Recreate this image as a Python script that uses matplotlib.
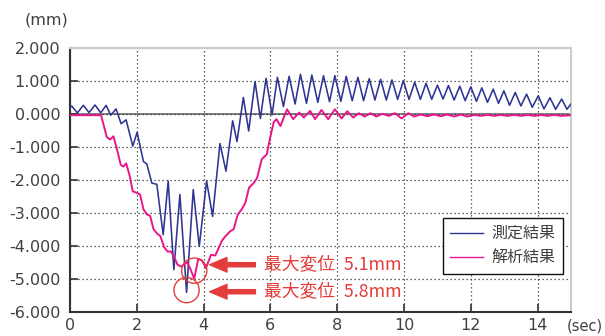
import matplotlib
matplotlib.use('Agg')
import matplotlib.pyplot as plt

plt.rcParams['font.family'] = ['Noto Sans CJK JP', 'DejaVu Sans']

# ---- data ----
series_names = ['測定結果', '解析結果']

t_meas = [0.00, 0.05, 0.22, 0.40, 0.57, 0.75, 0.92, 1.08, 1.22, 1.38, 1.53, 1.68,
          1.88, 2.01, 2.20, 2.30, 2.45, 2.60, 2.79, 2.94, 3.11, 3.29, 3.49, 3.69,
          3.87, 4.09, 4.27, 4.49, 4.67, 4.87, 5.00, 5.19, 5.35, 5.54, 5.70, 5.87,
          6.05, 6.21, 6.39, 6.56, 6.74, 6.90, 7.08, 7.24, 7.42, 7.59, 7.77, 7.93,
          8.11, 8.27, 8.45, 8.62, 8.79, 8.96, 9.13, 9.30, 9.47, 9.64, 9.81, 9.98,
          10.15, 10.32, 10.49, 10.66, 10.83, 11.00, 11.17, 11.33, 11.50, 11.67,
          11.83, 12.00, 12.17, 12.33, 12.50, 12.67, 12.83, 12.99, 13.16, 13.33,
          13.50, 13.67, 13.84, 14.02, 14.19, 14.37, 14.54, 14.72, 14.88, 15.00]
v_meas = [0.20, 0.24, 0.03, 0.26, 0.04, 0.27, 0.03, 0.26, -0.04, 0.15, -0.30, -0.18,
          -0.98, -0.56, -1.45, -1.52, -2.10, -2.14, -3.67, -2.04, -4.73, -2.45, -5.42, -2.30,
          -4.02, -2.04, -3.11, -0.90, -1.74, -0.21, -0.84, 0.50, -0.52, 0.98, -0.14, 1.08,
          -0.03, 1.11, 0.22, 1.14, 0.30, 1.20, 0.32, 1.18, 0.35, 1.16, 0.37, 1.16,
          0.38, 1.14, 0.40, 1.11, 0.40, 1.07, 0.42, 1.05, 0.42, 1.03, 0.44, 1.01,
          0.44, 0.96, 0.44, 0.93, 0.44, 0.87, 0.45, 0.86, 0.42, 0.84,
          0.40, 0.82, 0.38, 0.79, 0.35, 0.75, 0.32, 0.70, 0.26, 0.65,
          0.24, 0.60, 0.20, 0.55, 0.15, 0.49, 0.14, 0.45, 0.14, 0.30]

t_calc = [0.00, 0.93, 1.10, 1.20, 1.30, 1.40, 1.52, 1.60, 1.68, 1.78, 1.88, 2.00,
          2.10, 2.20, 2.30, 2.40, 2.50, 2.62, 2.70, 2.82, 2.92, 3.02, 3.12, 3.22,
          3.34, 3.50, 3.60, 3.72, 3.84, 3.95, 4.07, 4.22, 4.35, 4.55, 4.65, 4.79,
          4.90, 5.02, 5.14, 5.25, 5.36, 5.50, 5.60, 5.74, 5.89, 6.02, 6.10, 6.18,
          6.30, 6.50, 6.68, 6.86, 7.00, 7.19, 7.34, 7.53, 7.73, 7.93, 8.13, 8.30,
          8.48, 8.65, 8.82, 9.00, 9.17, 9.35, 9.55, 9.73, 9.93, 10.13, 10.30, 10.50,
          10.70, 10.90, 11.10, 11.30, 11.50, 11.70, 11.90, 12.10, 12.30, 12.50,
          12.70, 12.90, 13.10, 13.30, 13.50, 13.70, 13.90, 14.10, 14.30, 14.50,
          14.70, 15.00]
v_calc = [-0.04, -0.04, -0.70, -0.78, -0.68, -1.05, -1.55, -1.60, -1.50, -1.85, -2.35, -2.40,
          -2.45, -2.90, -3.05, -3.10, -3.50, -3.65, -3.70, -4.05, -4.18, -4.18, -4.35, -4.58,
          -4.64, -4.50, -4.70, -5.00, -4.40, -4.45, -4.68, -4.28, -4.30, -3.85, -3.72, -3.57,
          -3.50, -3.06, -2.90, -2.70, -2.24, -2.10, -1.95, -1.38, -1.23, -0.60, -0.25, -0.16,
          -0.37, 0.14, -0.16, 0.04, -0.11, 0.09, -0.16, 0.12, -0.16, 0.14, -0.14, 0.08,
          -0.11, 0.02, -0.08, 0.02, -0.08, 0.00, -0.06, 0.02, -0.14, 0.02, -0.08, -0.02,
          -0.07, -0.02, -0.07, -0.02, -0.08, -0.02, -0.08, -0.03, -0.06, -0.03,
          -0.06, -0.03, -0.06, -0.03, -0.06, -0.03, -0.06, -0.03, -0.06, -0.03,
          -0.06, -0.04]

x_ticks = [0, 2, 4, 6, 8, 10, 12, 14]
y_ticks = [-6, -5, -4, -3, -2, -1, 0, 1, 2]
ann_labels = ['最大変位\u20025.1mm', '最大変位\u20025.8mm']

# ---- figure ----
fig = plt.figure(figsize=(6.05, 3.36), dpi=100)
ax = fig.add_axes([70/605, 24.5/336, 501/605, 263.5/336])

blue = '#2e3592'
pink = '#e8168a'
red = '#e33d3b'
txt = '#404040'
num_font = ['DejaVu Sans']

ax.set_xlim(0, 15)
ax.set_ylim(-6, 2)
ax.set_xticks(x_ticks)
ax.set_xticklabels([str(v) for v in x_ticks], family=num_font)
ax.set_yticks(y_ticks)
ax.set_yticklabels([f'{v:.3f}' for v in y_ticks], family=num_font)
ax.tick_params(direction='in', length=6, width=1.2, color='#333333',
               labelsize=11.5, labelcolor=txt)
ax.tick_params(axis='y', pad=7)
ax.tick_params(axis='x', pad=5)

ax.grid(True, color='#333333', linewidth=0.9, linestyle=(0, (1, 2.2)), zorder=0)
ax.axhline(0, color='#777777', linewidth=1.3, zorder=1)

for side in ['left', 'bottom']:
    ax.spines[side].set_color('#333333')
    ax.spines[side].set_linewidth(1.5)
for side in ['top', 'right']:
    ax.spines[side].set_color('#cccccc')
    ax.spines[side].set_linewidth(1.5)

l1, = ax.plot(t_meas, v_meas, color=blue, linewidth=1.15, label=series_names[0],
              solid_joinstyle='round', zorder=3)
l2, = ax.plot(t_calc, v_calc, color=pink, linewidth=1.4, label=series_names[1],
              solid_joinstyle='round', zorder=4)

# circles around the maxima
ax.scatter([3.72], [-4.76], s=330, facecolors='none', edgecolors=red, linewidths=1.0, zorder=5)
ax.scatter([3.49], [-5.35], s=330, facecolors='none', edgecolors=red, linewidths=1.0, zorder=5)

# arrows and labels
for yv, lab in zip([-4.58, -5.40], ann_labels):
    ax.annotate('', xy=(4.18, yv), xytext=(5.55, yv),
                arrowprops=dict(arrowstyle='simple,head_length=1.25,head_width=1.05,tail_width=0.3',
                                color=red, mutation_scale=10, shrinkA=0, shrinkB=0),
                zorder=6)
    ax.text(5.8, yv, lab, color=red, fontsize=12.8, va='center', ha='left', zorder=6)

leg = ax.legend(handles=[l1, l2], loc='upper right', bbox_to_anchor=(0.984, 0.355),
                borderaxespad=0, fontsize=11.5, frameon=True, fancybox=False,
                edgecolor='#111111', framealpha=1, handlelength=2.05, handletextpad=0.55,
                borderpad=0.45, labelspacing=0.45)
leg.get_frame().set_linewidth(1.0)
for h in leg.get_lines():
    h.set_linewidth(1.0)
for t in leg.get_texts():
    t.set_color(txt)

fig.text(47/605, 1 - 20/336, '(mm)', fontsize=11.5, color=txt, ha='center', va='center',
         family=num_font)
fig.text(603/605, 1 - 326/336, '(sec)', fontsize=10.5, color=txt, ha='right', va='center',
         family=num_font)

fig.savefig('out.png', dpi=100)
